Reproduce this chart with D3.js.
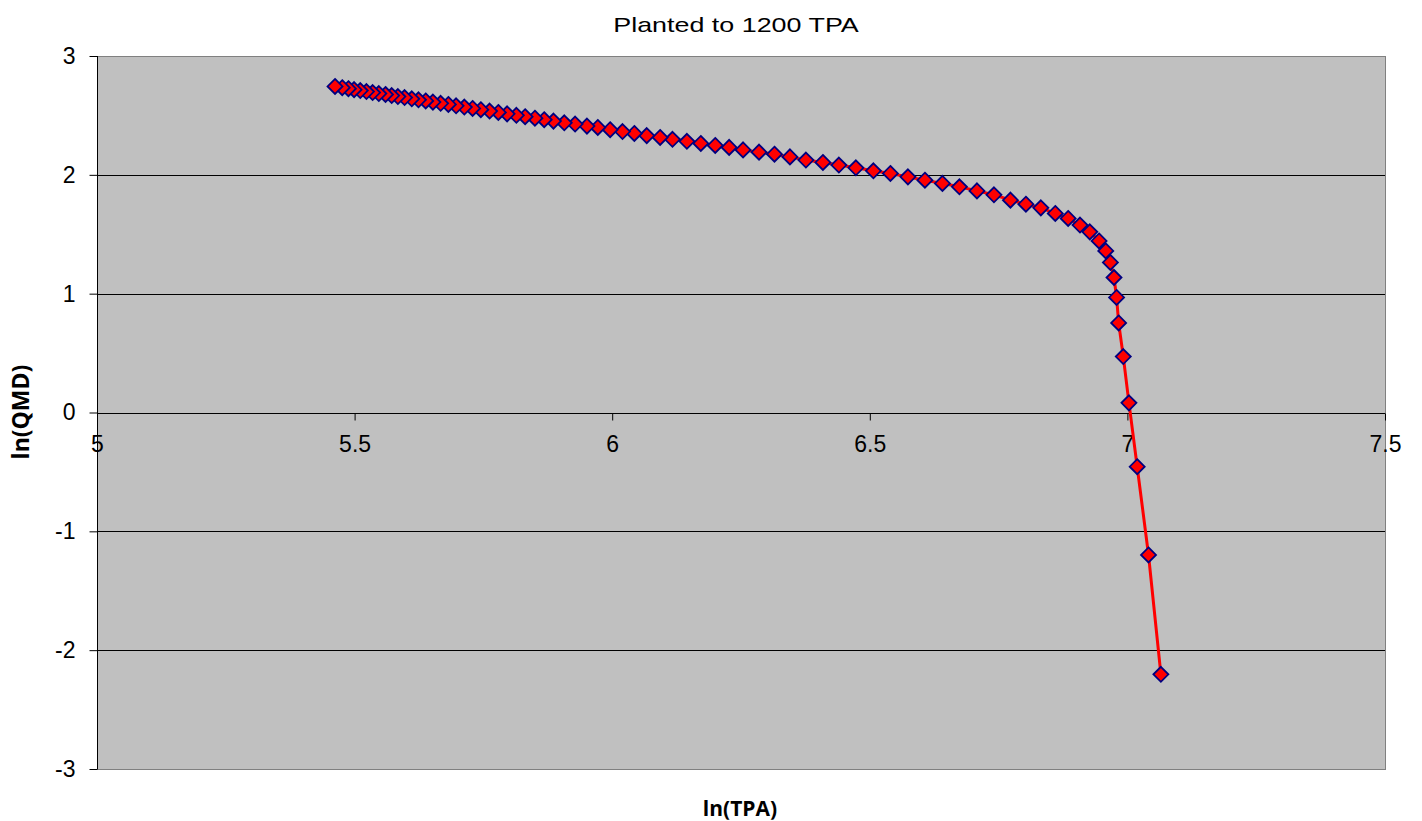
<!DOCTYPE html>
<html>
<head>
<meta charset="utf-8">
<script src="https://cdn.jsdelivr.net/npm/d3@7"></script>
<style>
  html, body { margin: 0; padding: 0; background: #ffffff; }
  svg { display: block; }
</style>
</head>
<body>
<svg id="chart" width="1422" height="821"></svg>
<script>
// ---- data (series order: from planting, high TPA, toward low TPA) ----
const lnTPA = [7.065, 7.041, 7.019, 7.003, 6.992, 6.983, 6.979, 6.974, 6.967, 6.958,
  6.945, 6.927, 6.908, 6.885, 6.860, 6.832, 6.803, 6.773, 6.741, 6.708,
  6.674, 6.641, 6.607, 6.574, 6.540, 6.507, 6.473, 6.440, 6.409, 6.376,
  6.345, 6.315, 6.285, 6.254, 6.227, 6.200, 6.172, 6.145, 6.117, 6.093,
  6.067, 6.043, 6.020, 5.996, 5.972, 5.951, 5.928, 5.907, 5.886, 5.868,
  5.850, 5.831, 5.814, 5.796, 5.779, 5.762, 5.745, 5.729, 5.713, 5.697,
  5.682, 5.667, 5.652, 5.638, 5.624, 5.611, 5.597, 5.584, 5.572, 5.560,
  5.547, 5.535, 5.523, 5.511, 5.499, 5.488, 5.476, 5.462];
const lnQMD = [-2.203, -1.199, -0.456, 0.081, 0.471, 0.754, 0.968, 1.136, 1.263, 1.360,
  1.444, 1.520, 1.577, 1.633, 1.675, 1.722, 1.753, 1.787, 1.832, 1.865,
  1.899, 1.928, 1.955, 1.983, 2.012, 2.034, 2.059, 2.082, 2.104, 2.124,
  2.151, 2.174, 2.191, 2.210, 2.231, 2.247, 2.264, 2.282, 2.299, 2.315,
  2.330, 2.348, 2.364, 2.380, 2.399, 2.410, 2.427, 2.438, 2.452, 2.464,
  2.477, 2.489, 2.501, 2.513, 2.525, 2.537, 2.548, 2.559, 2.570, 2.581,
  2.592, 2.602, 2.612, 2.622, 2.631, 2.640, 2.650, 2.659, 2.667, 2.676,
  2.684, 2.692, 2.701, 2.709, 2.717, 2.725, 2.733, 2.744];
const xTicks = [5, 5.5, 6, 6.5, 7, 7.5];
const yTicks = [-3, -2, -1, 0, 1, 2, 3];
const titleText = "Planted to 1200 TPA";
const xTitle = "ln(TPA)";
const yTitle = "ln(QMD)";

const points = lnTPA.map((x, i) => ({ x: x, y: lnQMD[i] }));

const svg = d3.select("#chart");
const plot = { left: 97, right: 1385, top: 56, bottom: 769 };

const x = d3.scaleLinear().domain([5, 7.5]).range([plot.left, plot.right]);
const y = d3.scaleLinear().domain([-3, 3]).range([plot.bottom, plot.top]);

// plot background
svg.append("rect")
  .attr("x", plot.left).attr("y", plot.top)
  .attr("width", plot.right - plot.left).attr("height", plot.bottom - plot.top)
  .attr("fill", "#c0c0c0")
  .attr("stroke", "#808080").attr("stroke-width", 1)
  .attr("shape-rendering", "crispEdges");

// horizontal gridlines
svg.append("g")
  .selectAll("line")
  .data(yTicks.filter(d => d !== 3 && d !== -3 && d !== 0))
  .join("line")
  .attr("x1", plot.left).attr("x2", plot.right)
  .attr("y1", d => Math.round(y(d)) + 0.5).attr("y2", d => Math.round(y(d)) + 0.5)
  .attr("stroke", "#000").attr("stroke-width", 1);

// y axis (left)
const yAxis = d3.axisLeft(y).tickValues(yTicks).tickSize(8).tickPadding(14)
  .tickFormat(d => String(d));
const gy = svg.append("g").attr("transform", `translate(${plot.left + 0.5},0)`).call(yAxis);
gy.select(".domain").attr("stroke", "#000").attr("d", `M0,${plot.top}V${plot.bottom}`);
gy.selectAll(".tick line").attr("stroke", "#000");
gy.selectAll(".tick text")
  .attr("font-family", "Arial, 'Liberation Sans', sans-serif")
  .attr("font-size", 23).attr("fill", "#000");

// x axis crossing at y = 0
const xAxis = d3.axisBottom(x).tickValues(xTicks).tickSize(7).tickPadding(15)
  .tickFormat(d => String(d));
const gx = svg.append("g").attr("transform", `translate(0,${Math.round(y(0)) + 0.5})`).call(xAxis);
gx.select(".domain").attr("stroke", "#000").attr("d", `M${plot.left},0H${plot.right}`);
gx.selectAll(".tick line").attr("stroke", "#000");
gx.selectAll(".tick text")
  .attr("font-family", "Arial, 'Liberation Sans', sans-serif")
  .attr("font-size", 23).attr("fill", "#000");

// line
const line = d3.line().x(d => x(d.x)).y(d => y(d.y));
svg.append("path")
  .datum(points)
  .attr("d", line)
  .attr("fill", "none")
  .attr("stroke", "#ff0000")
  .attr("stroke-width", 3)
  .attr("stroke-linejoin", "round");

// diamond markers
const r = 7.5;
const diamond = `M0,${-r}L${r},0L0,${r}L${-r},0Z`;
svg.append("g")
  .selectAll("path")
  .data(points)
  .join("path")
  .attr("d", diamond)
  .attr("transform", d => `translate(${x(d.x)},${y(d.y)})`)
  .attr("fill", "#ff0000")
  .attr("stroke", "#000080")
  .attr("stroke-width", 1.8);

// titles
svg.append("text")
  .attr("transform", "translate(736,32) scale(1.28,1)")
  .attr("text-anchor", "middle")
  .attr("font-family", "Arial, 'Liberation Sans', sans-serif")
  .attr("font-size", 21)
  .text(titleText);

svg.append("text")
  .attr("x", 740).attr("y", 816)
  .attr("text-anchor", "middle")
  .attr("font-family", "'Open Sans', sans-serif")
  .attr("font-weight", "bold")
  .attr("font-size", 21)
  .text(xTitle);

svg.append("text")
  .attr("transform", `translate(29,412) rotate(-90)`)
  .attr("text-anchor", "middle")
  .attr("font-family", "'Open Sans', sans-serif")
  .attr("font-weight", "bold")
  .attr("font-size", 23)
  .text(yTitle);
</script>
</body>
</html>
